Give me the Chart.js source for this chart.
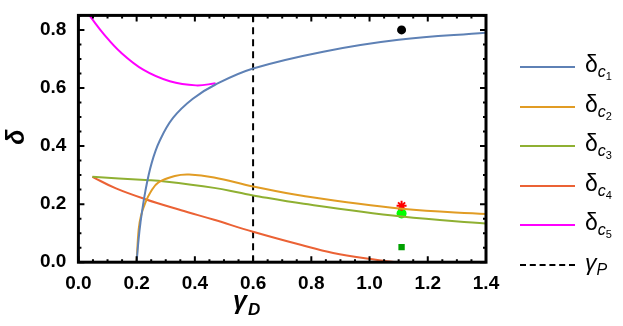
<!DOCTYPE html>
<html>
<head>
<meta charset="utf-8">
<script src="https://cdn.jsdelivr.net/npm/chart.js@4"></script>
<style>
  body { margin: 0; background: #fff; }
  #wrap { position: relative; width: 623px; height: 326px; }
  #legend { position: absolute; left: 520px; top: 0; font-family: "Liberation Sans", Arial, sans-serif; }
  .item { position: absolute; left: 0; width: 110px; height: 30px; }
  .item .ln { position: absolute; left: 0; top: 13px; width: 55px; height: 0; }
  .item .tx { position: absolute; left: 65px; top: -2px; font-size: 23px; line-height: 26px; white-space: nowrap; }
  .tx sub { font-size: 16px; font-style: italic; vertical-align: -5px; }
  .tx sub sub { font-size: 11px; font-style: normal; vertical-align: -3px; }
</style>
</head>
<body>
<div id="wrap">
  <canvas id="plot" width="623" height="326"></canvas>
  <div id="legend"></div>
</div>
<script>
// data
const xTicks = [0.0, 0.2, 0.4, 0.6, 0.8, 1.0, 1.2, 1.4];
const yTicks = [0.0, 0.2, 0.4, 0.6, 0.8];

const deltaC1 = [[0.2, 0], [0.205, 0.06], [0.213, 0.135], [0.23, 0.245], [0.252, 0.343], [0.28, 0.42],
  [0.325, 0.497], [0.393, 0.563], [0.471, 0.612], [0.6, 0.667], [0.841, 0.725], [1.1, 0.766], [1.4, 0.79]];
const deltaC2 = [[0.2, 0], [0.207, 0.113], [0.215, 0.16], [0.23, 0.205], [0.25, 0.245], [0.275, 0.275],
  [0.331, 0.297], [0.38, 0.302], [0.466, 0.292], [0.6, 0.261], [0.774, 0.228], [1.111, 0.184], [1.4, 0.166]];
const deltaC3 = [[0.048, 0.294], [0.23, 0.283], [0.297, 0.278], [0.466, 0.256], [0.555, 0.239], [0.6, 0.23],
  [0.774, 0.201], [1.111, 0.157], [1.4, 0.133]];
const deltaC4 = [[0.048, 0.294], [0.129, 0.254], [0.23, 0.217], [0.353, 0.179], [0.466, 0.146], [0.6, 0.105],
  [0.763, 0.06], [0.875, 0.032], [1.01, 0.01], [1.09, 0]];
const deltaC5 = [[0.039, 0.848], [0.09, 0.782], [0.146, 0.722], [0.224, 0.662], [0.314, 0.623],
  [0.404, 0.609], [0.471, 0.616]];
const gammaP = [[0.6, 0], [0.6, 0.85]];

const blackDot = [[1.11, 0.8]];
const redStar = [[1.11, 0.194]];
const limeDot = [[1.11, 0.168]];
const greenSquare = [[1.11, 0.052]];

const toXY = arr => arr.map(p => ({ x: p[0], y: p[1] }));

function curve(data, color) {
    return {
        data: toXY(data),
        borderColor: color,
        borderWidth: 2,
        pointRadius: 0,
        tension: 0.4,
        fill: false
    };
}

function marker(data, style, color, r) {
    return {
        type: 'scatter',
        data: toXY(data),
        pointStyle: style,
        pointRadius: r,
        backgroundColor: color,
        borderColor: color,
        borderWidth: style === 'star' ? 2 : 0
    };
}

// inward ticks on all four sides plus the frame (Mathematica look)
const framePlugin = {
    id: 'frame',
    afterDatasetsDraw(chart) {
        const { ctx, chartArea: a, scales: { x, y } } = chart;
        ctx.save();
        ctx.strokeStyle = '#000';
        ctx.lineWidth = 2;
        for (let i = 0; i <= 28; i++) {
            const px = x.getPixelForValue(i * 0.05);
            const len = i % 4 === 0 ? 6 : 3;
            ctx.beginPath();
            ctx.moveTo(px, a.bottom); ctx.lineTo(px, a.bottom - len);
            ctx.moveTo(px, a.top); ctx.lineTo(px, a.top + len);
            ctx.stroke();
        }
        for (let i = 0; i <= 17; i++) {
            const py = y.getPixelForValue(i * 0.05);
            const len = i % 4 === 0 ? 6 : 3;
            ctx.beginPath();
            ctx.moveTo(a.left, py); ctx.lineTo(a.left + len, py);
            ctx.moveTo(a.right, py); ctx.lineTo(a.right - len, py);
            ctx.stroke();
        }
        ctx.lineWidth = 3;
        ctx.strokeRect(a.left, a.top, a.right - a.left, a.bottom - a.top);

        // axis titles
        ctx.fillStyle = '#000';
        ctx.font = 'italic bold 25px "Liberation Sans", Arial, sans-serif';
        ctx.textBaseline = 'alphabetic';
        ctx.textAlign = 'left';
        ctx.fillText('γ', 233, 309);
        ctx.font = 'italic bold 17px "Liberation Sans", Arial, sans-serif';
        ctx.fillText('D', 248, 315);

        ctx.translate(24, 137);
        ctx.rotate(-Math.PI / 2);
        ctx.textAlign = 'center';
        ctx.font = 'italic bold 25px "Liberation Sans", Arial, sans-serif';
        ctx.fillText('δ', 0, 0);
        ctx.restore();
    }
};

const ctx = document.getElementById('plot').getContext('2d');
new Chart(ctx, {
    type: 'line',
    data: {
        datasets: [
            curve(deltaC1, '#5E81B5'),
            curve(deltaC2, '#E19C24'),
            curve(deltaC3, '#8FB032'),
            curve(deltaC4, '#EB6235'),
            curve(deltaC5, '#FF00FF'),
            Object.assign(curve(gammaP, '#000'), { borderDash: [7, 5], tension: 0 }),
            marker(blackDot, 'circle', '#000', 4.5),
            marker(redStar, 'star', '#ff0000', 5),
            marker(limeDot, 'circle', '#00ff00', 5),
            marker(greenSquare, 'rect', '#00a000', 4.5)
        ]
    },
    options: {
        responsive: false,
        animation: false,
        layout: { padding: { left: 36, right: 137, top: 3, bottom: 29 } },
        plugins: { legend: { display: false }, tooltip: { enabled: false } },
        scales: {
            x: {
                type: 'linear',
                min: 0, max: 1.4,
                afterBuildTicks: s => { s.ticks = xTicks.map(v => ({ value: v })); },
                grid: { display: false },
                border: { display: false },
                ticks: {
                    color: '#000',
                    padding: 2,
                    maxRotation: 0,
                    font: { family: '"Liberation Sans", Arial, sans-serif', size: 19, weight: 'bold' },
                    callback: v => v.toFixed(1)
                }
            },
            y: {
                type: 'linear',
                min: 0, max: 0.85,
                afterBuildTicks: s => { s.ticks = yTicks.map(v => ({ value: v })); },
                grid: { display: false },
                border: { display: false },
                ticks: {
                    color: '#000',
                    padding: 4,
                    font: { family: '"Liberation Sans", Arial, sans-serif', size: 19, weight: 'bold' },
                    callback: v => v.toFixed(1)
                }
            }
        }
    },
    plugins: [framePlugin]
});

// legend built as html so the nested subscripts stay real text
const legendItems = [
    { color: '#5E81B5', html: 'δ<sub>c<sub>1</sub></sub>', dash: false },
    { color: '#E19C24', html: 'δ<sub>c<sub>2</sub></sub>', dash: false },
    { color: '#8FB032', html: 'δ<sub>c<sub>3</sub></sub>', dash: false },
    { color: '#EB6235', html: 'δ<sub>c<sub>4</sub></sub>', dash: false },
    { color: '#FF00FF', html: 'δ<sub>c<sub>5</sub></sub>', dash: false },
    { color: '#000', html: '<i>γ<sub>P</sub></i>', dash: true }
];
const legendEl = document.getElementById('legend');
legendItems.forEach((it, i) => {
    const d = document.createElement('div');
    d.className = 'item';
    d.style.top = (53 + i * 39.6) + 'px';
    d.innerHTML = '<div class="ln" style="border-top:2.5px ' + (it.dash ? 'dashed' : 'solid') + ' ' + it.color + '"></div>' +
        '<div class="tx">' + it.html + '</div>';
    legendEl.appendChild(d);
});
</script>
</body>
</html>
